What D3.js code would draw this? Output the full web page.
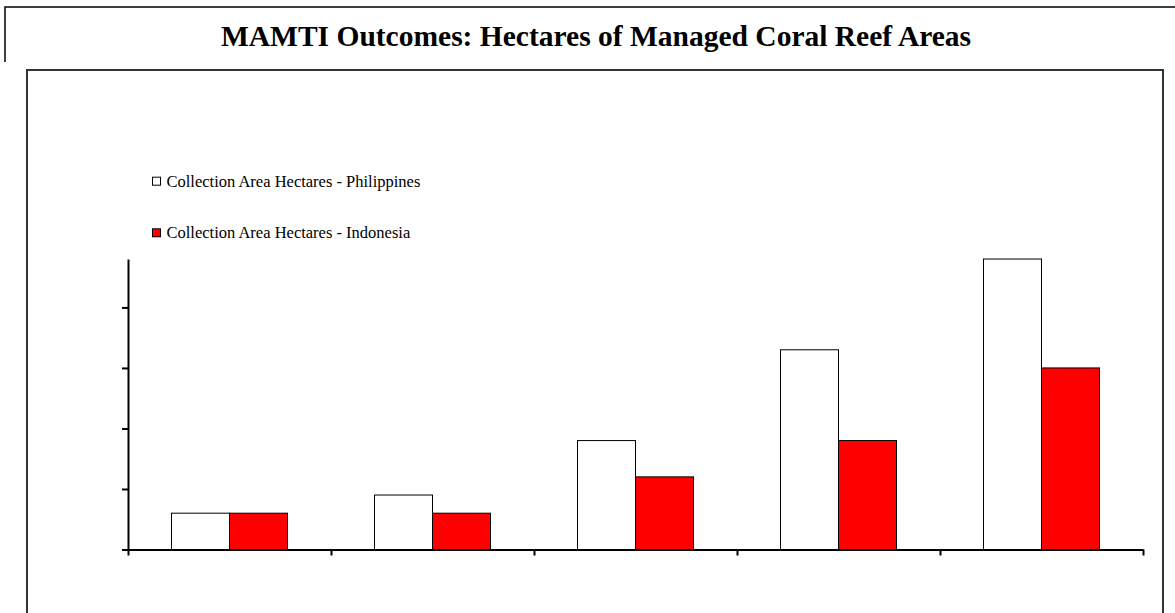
<!DOCTYPE html>
<html lang="en">
<head>
    <meta charset="UTF-8">
    <title>MAMTI Outcomes: Hectares of Managed Coral Reef Areas</title>
    <style>
        body {
            margin: 0;
            background: #fff;
        }
        svg {
            display: block;
            font-family: "Liberation Serif", "Times New Roman", "DejaVu Serif", serif;
        }
        .title {
            font-size: 29.5px;
            font-weight: bold;
            text-anchor: middle;
            fill: #000;
        }
        .legend text {
            font-size: 16.5px;
            fill: #000;
        }
        .axis path, .axis line {
            stroke: #000;
            stroke-width: 2px;
        }
        .bar {
            stroke: #000;
            stroke-width: 1px;
        }
    </style>
</head>
<body>
    <svg width="1175" height="613"></svg>
    <script src="https://d3js.org/d3.v7.min.js"></script>
    <script>
        const width = 1175;
        const height = 613;

        // data (axis carries no labels in the original, values read in tick units)
        const categories = ["1", "2", "3", "4", "5"];
        const seriesNames = ["Collection Area Hectares - Philippines", "Collection Area Hectares - Indonesia"];
        const philippines = [6000, 9000, 18000, 33000, 48000];
        const indonesia = [6000, 6000, 12000, 18000, 30000];
        const yTicks = [0, 10000, 20000, 30000, 40000];
        const yMax = 48000;

        const colors = ["#ffffff", "#ff0000"];

        const rows = categories.map((c, i) => ({ cat: c, values: [philippines[i], indonesia[i]] }));

        const svg = d3.select("svg")
            .attr("width", width)
            .attr("height", height);

        // outer frame (top + left edge) and inner chart box
        svg.append("path")
            .attr("d", "M5,62V7H1175")
            .attr("fill", "none")
            .attr("stroke", "#000")
            .attr("stroke-width", 1.5);

        svg.append("rect")
            .attr("x", 27)
            .attr("y", 70)
            .attr("width", 1136)
            .attr("height", 600)
            .attr("fill", "none")
            .attr("stroke", "#333")
            .attr("stroke-width", 2);

        svg.append("text")
            .attr("class", "title")
            .attr("x", 596)
            .attr("y", 45.5)
            .text("MAMTI Outcomes: Hectares of Managed Coral Reef Areas");

        const plot = { left: 128, right: 1143, top: 259, bottom: 549.5 };

        const x = d3.scaleBand()
            .domain(categories)
            .range([plot.left, plot.right])
            .padding(0);

        const xInner = d3.scaleBand()
            .domain(d3.range(seriesNames.length))
            .range([0, x.bandwidth()])
            .paddingInner(0)
            .paddingOuter(0.75);

        const y = d3.scaleLinear()
            .domain([0, yMax])
            .range([plot.bottom, plot.top]);

        const groups = svg.append("g")
            .selectAll("g")
            .data(rows)
            .join("g")
            .attr("transform", d => `translate(${x(d.cat)},0)`);

        groups.selectAll("rect")
            .data(d => d.values.map((v, i) => ({ i, v })))
            .join("rect")
            .attr("class", "bar")
            .attr("x", d => xInner(d.i))
            .attr("y", d => y(d.v))
            .attr("width", xInner.bandwidth())
            .attr("height", d => y(0) - y(d.v))
            .attr("fill", d => colors[d.i]);

        // y axis: ticks only, no labels
        svg.append("g")
            .attr("class", "axis")
            .attr("transform", `translate(${plot.left},0)`)
            .call(d3.axisLeft(y).tickValues(yTicks).tickSize(6).tickSizeOuter(0).tickFormat(""));

        // x axis: ticks at category boundaries
        const xEdge = d3.scaleLinear()
            .domain([0, categories.length])
            .range([plot.left, plot.right]);

        svg.append("g")
            .attr("class", "axis")
            .attr("transform", `translate(0,${plot.bottom})`)
            .call(d3.axisBottom(xEdge).tickValues(d3.range(categories.length + 1)).tickSize(6).tickSizeOuter(0).tickFormat(""));

        // legend
        const legend = svg.append("g")
            .attr("class", "legend")
            .selectAll("g")
            .data(seriesNames)
            .join("g")
            .attr("transform", (d, i) => `translate(152,${186.7 + i * 51.6})`);

        legend.append("rect")
            .attr("x", 0.5)
            .attr("y", -9.5)
            .attr("width", 8)
            .attr("height", 8)
            .attr("fill", (d, i) => colors[i])
            .attr("stroke", "#000")
            .attr("stroke-width", 1);

        legend.append("text")
            .attr("x", 14.5)
            .attr("y", 0)
            .text(d => d);
    </script>
</body>
</html>
